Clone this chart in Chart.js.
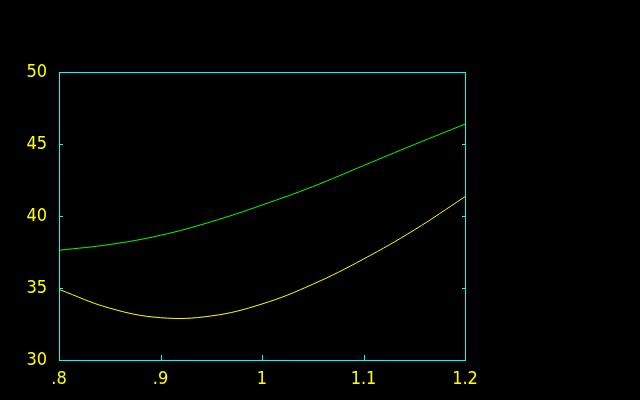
<!DOCTYPE html>
<html>
<head>
<meta charset="utf-8">
<script src="https://cdn.jsdelivr.net/npm/chart.js@4"></script>
<style>
  html, body { margin: 0; padding: 0; background: #000; }
  #wrap { width: 640px; height: 400px; }
</style>
</head>
<body>
<div id="wrap"><canvas id="chart"></canvas></div>
<script>
// data
const xValues = [0.8, 0.85, 0.9, 0.95, 1.0, 1.05, 1.1, 1.15, 1.2];
const greenValues = [37.62, 38.02, 38.66, 39.6, 40.76, 42.04, 43.5, 44.96, 46.38];
const yellowValues = [34.9, 33.6, 32.94, 33.06, 33.89, 35.26, 37.01, 39.03, 41.34];
const yTicks = [30, 35, 40, 45, 50];
const xTicks = [0.8, 0.9, 1.0, 1.1, 1.2];

const CYAN = "#00ffff";
const YELLOW = "#ffff00";
const GREEN = "#00ff00";
const font = { family: "'DejaVu Sans Condensed', 'Liberation Sans Narrow', 'Liberation Sans', sans-serif", size: 18 };

const toPoints = (vals) => xValues.map((x, i) => ({ x: x, y: vals[i] }));

const fmtX = (v) => {
    let s = (Math.round(v * 10) / 10).toString();
    return s.replace(/^0\./, ".");
};

// box round the plot area plus short inward tick marks
const boxPlugin = {
    id: "box",
    afterDraw(chart) {
        const { ctx, chartArea: a, scales } = chart;
        ctx.save();
        ctx.strokeStyle = CYAN;
        ctx.lineWidth = 1;
        ctx.strokeRect(a.left + 0.5, a.top + 0.5, a.right - a.left, a.bottom - a.top);
        ctx.beginPath();
        yTicks.slice(1, -1).forEach((v) => {
            const y = Math.round(scales.y.getPixelForValue(v)) + 0.5;
            ctx.moveTo(a.left, y); ctx.lineTo(a.left + 4, y);
            ctx.moveTo(a.right + 1, y); ctx.lineTo(a.right - 3, y);
        });
        xTicks.slice(1, -1).forEach((v) => {
            const x = Math.round(scales.x.getPixelForValue(v)) + 0.5;
            ctx.moveTo(x, a.bottom); ctx.lineTo(x, a.bottom - 5);
        });
        ctx.stroke();
        ctx.restore();
    },
};

new Chart(document.getElementById("chart"), {
    type: "line",
    data: {
        datasets: [
            { data: toPoints(greenValues), borderColor: GREEN, borderWidth: 1, pointRadius: 0, tension: 0.4 },
            { data: toPoints(yellowValues), borderColor: YELLOW, borderWidth: 1, pointRadius: 0, tension: 0.4 },
        ],
    },
    options: {
        responsive: true,
        maintainAspectRatio: false,
        animation: false,
        layout: { padding: { top: 72, right: 175, left: 0, bottom: 0 } },
        plugins: { legend: { display: false }, tooltip: { enabled: false } },
        scales: {
            x: {
                type: "linear",
                min: 0.8,
                max: 1.2,
                afterFit: (s) => { s.height = 40; },
                afterBuildTicks: (s) => { s.ticks = xTicks.map((v) => ({ value: v })); },
                grid: { display: false, drawTicks: false },
                border: { display: false },
                ticks: { color: YELLOW, font: font, padding: 9, maxRotation: 0, callback: (v) => fmtX(v) },
            },
            y: {
                min: 30,
                max: 50,
                afterFit: (s) => { s.width = 59; },
                afterBuildTicks: (s) => { s.ticks = yTicks.map((v) => ({ value: v })); },
                grid: { display: false, drawTicks: false },
                border: { display: false },
                ticks: { color: YELLOW, font: font, padding: 12 },
            },
        },
    },
    plugins: [boxPlugin],
});
</script>
</body>
</html>
